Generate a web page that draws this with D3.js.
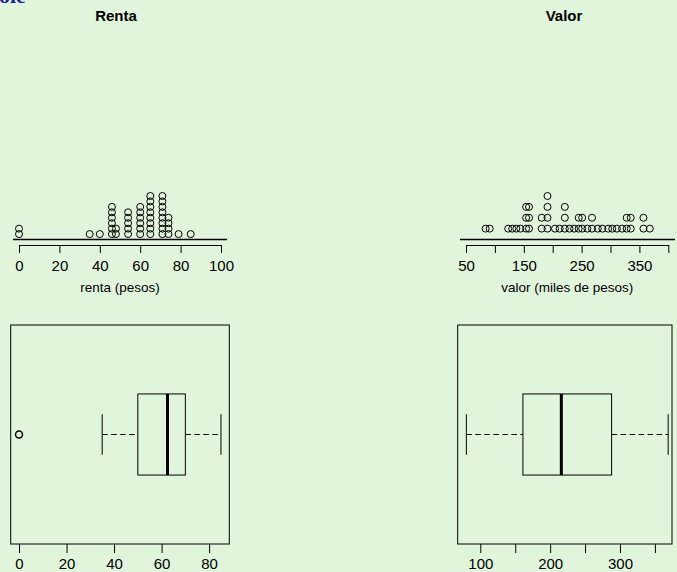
<!DOCTYPE html>
<html>
<head>
<meta charset="utf-8">
<script src="https://cdn.jsdelivr.net/npm/d3@7"></script>
<style>
  html, body { margin: 0; padding: 0; background: #e1f5dc; }
  svg { display: block; }
  text { font-family: "Liberation Sans", Arial, Helvetica, sans-serif; fill: #000; }
</style>
</head>
<body>
<svg id="chart" width="677" height="572"></svg>
<script>
// Rent (pesos): distinct values and how many houses share each value
const rentaValues = [0, 35, 40, 46, 48, 54, 60, 65, 71, 74, 79, 85];
const rentaCounts = [2, 1, 1, 6, 2, 5, 6, 8, 8, 4, 1, 1];

// House value (thousands of pesos): distinct values and counts
const valorValues = [84, 91, 123, 130, 137, 144, 154, 159, 181, 191, 204, 212, 221, 229, 237,
                     245, 251, 260, 268, 278, 286, 296, 303, 311, 320, 328, 335, 357, 368];
const valorCounts = [1, 1, 1, 1, 1, 1, 3, 3, 2, 4, 1, 1, 3, 1, 1,
                     2, 2, 1, 2, 1, 1, 1, 1, 1, 1, 2, 2, 2, 1];

// Five-number summaries used by the box plots: [lower whisker, Q1, median, Q3, upper whisker]
const rentaBox = [35, 50, 62.5, 70, 85];
const rentaOutliers = [0];
const valorBox = [80, 161, 216, 288, 369];
const valorOutliers = [];

// Axis ticks and labels
const rentaDotTicks = [0, 20, 40, 60, 80, 100];
const rentaDotLabels = [0, 20, 40, 60, 80, 100];
const valorDotTicks = [50, 100, 150, 200, 250, 300, 350, 400];
const valorDotLabels = [50, 150, 250, 350];
const rentaBoxTicks = [0, 20, 40, 60, 80];
const rentaBoxLabels = [0, 20, 40, 60, 80];
const valorBoxTicks = [100, 150, 200, 250, 300, 350];
const valorBoxLabels = [100, 200, 300];

const titles = ["Renta", "Valor"];
const xTitles = ["renta (pesos)", "valor (miles de pesos)"];

const svg = d3.select("#chart");

// Clipped heading left over from the page above
svg.append("text")
  .attr("x", -1).attr("y", 3)
  .style("font-family", "'Liberation Serif', 'DejaVu Serif', serif")
  .style("font-weight", "bold").style("font-size", "22px")
  .style("fill", "#1c1c9c")
  .text("ole");

function dotPlot(cfg) {
  const g = svg.append("g");
  const x = d3.scaleLinear().domain(cfg.domain).range(cfg.range);
  const maxCount = d3.max(cfg.counts);
  const y = d3.scaleLinear().domain([0, maxCount]).range([cfg.baseY, cfg.baseY - 43.5]);

  // baseline under the stacks
  g.append("line")
    .attr("x1", x(cfg.lineExtent[0])).attr("x2", x(cfg.lineExtent[1]))
    .attr("y1", cfg.baseY).attr("y2", cfg.baseY)
    .attr("stroke", "#000").attr("stroke-width", 1.3);

  const pts = [];
  cfg.values.forEach((v, i) => {
    for (let k = 1; k <= cfg.counts[i]; k++) pts.push({ v, k });
  });
  g.selectAll("circle").data(pts).join("circle")
    .attr("cx", d => x(d.v)).attr("cy", d => y(d.k))
    .attr("r", 3.5)
    .attr("fill", "none").attr("stroke", "#000").attr("stroke-width", 1);

  const axis = d3.axisBottom(x)
    .tickValues(cfg.ticks)
    .tickSize(8).tickSizeOuter(0).tickPadding(7)
    .tickFormat(d => cfg.labels.includes(d) ? d : "");
  const ag = g.append("g").attr("transform", `translate(0,${cfg.axisY})`).call(axis);
  ag.select(".domain").attr("stroke", "#000");
  ag.selectAll(".tick line").attr("stroke", "#000");
  ag.selectAll("text").style("font-size", "15px").style("font-family", "'Liberation Sans', Arial, sans-serif");

  g.append("text")
    .attr("x", (cfg.range[0] + cfg.range[1]) / 2).attr("y", cfg.axisY + 47)
    .attr("text-anchor", "middle").style("font-size", "13.5px")
    .text(cfg.xTitle);

  svg.append("text")
    .attr("x", cfg.titleX).attr("y", 21)
    .attr("text-anchor", "middle")
    .style("font-size", "15px").style("font-weight", "bold")
    .text(cfg.title);
}

function boxPlot(cfg) {
  const g = svg.append("g");
  const x = d3.scaleLinear().domain(cfg.domain).range(cfg.range);
  const y = d3.scaleLinear().domain([1.54, 0.46]).range([325, 544]);
  const [lo, q1, med, q3, hi] = cfg.stats;

  g.append("rect")
    .attr("x", cfg.range[0]).attr("y", y(1.54))
    .attr("width", cfg.range[1] - cfg.range[0]).attr("height", y(0.46) - y(1.54))
    .attr("fill", "none").attr("stroke", "#000").attr("stroke-width", 1);

  // whiskers
  g.selectAll("line.whisker").data([[lo, q1], [q3, hi]]).join("line")
    .attr("class", "whisker")
    .attr("x1", d => x(d[0])).attr("x2", d => x(d[1]))
    .attr("y1", y(1)).attr("y2", y(1))
    .attr("stroke", "#000").attr("stroke-dasharray", "5.5,3.5");
  g.selectAll("line.cap").data([lo, hi]).join("line")
    .attr("class", "cap")
    .attr("x1", d => x(d)).attr("x2", d => x(d))
    .attr("y1", y(1.1)).attr("y2", y(0.9))
    .attr("stroke", "#000");

  // box and median
  g.append("rect")
    .attr("x", x(q1)).attr("y", y(1.2))
    .attr("width", x(q3) - x(q1)).attr("height", y(0.8) - y(1.2))
    .attr("fill", "none").attr("stroke", "#000");
  g.append("line")
    .attr("x1", x(med)).attr("x2", x(med))
    .attr("y1", y(1.2)).attr("y2", y(0.8))
    .attr("stroke", "#000").attr("stroke-width", 3);

  g.selectAll("circle").data(cfg.outliers).join("circle")
    .attr("cx", d => x(d)).attr("cy", y(1)).attr("r", 3.5)
    .attr("fill", "none").attr("stroke", "#000").attr("stroke-width", 1.5);

  const axis = d3.axisBottom(x)
    .tickValues(cfg.ticks)
    .tickSize(9).tickSizeOuter(0).tickPadding(5)
    .tickFormat(d => cfg.labels.includes(d) ? d : "");
  const ag = g.append("g").attr("transform", `translate(0,${y(0.46)})`).call(axis);
  ag.select(".domain").remove();
  ag.selectAll(".tick line").attr("stroke", "#000");
  ag.selectAll("text").style("font-size", "15px").style("font-family", "'Liberation Sans', Arial, sans-serif");
}

dotPlot({
  values: rentaValues, counts: rentaCounts,
  domain: [0, 100], range: [19, 221], lineExtent: [-3, 103],
  baseY: 239.5, axisY: 245,
  ticks: rentaDotTicks, labels: rentaDotLabels,
  xTitle: xTitles[0], title: titles[0], titleX: 116
});
dotPlot({
  values: valorValues, counts: valorCounts,
  domain: [50, 400], range: [466, 668.3], lineExtent: [39.5, 411.5],
  baseY: 239.5, axisY: 245,
  ticks: valorDotTicks, labels: valorDotLabels,
  xTitle: xTitles[1], title: titles[1], titleX: 564
});

boxPlot({
  stats: rentaBox, outliers: rentaOutliers,
  domain: [-3.5, 88.5], range: [10.7, 229.3],
  ticks: rentaBoxTicks, labels: rentaBoxLabels
});
boxPlot({
  stats: valorBox, outliers: valorOutliers,
  domain: [67.6, 374.5], range: [457.7, 672],
  ticks: valorBoxTicks, labels: valorBoxLabels
});
</script>
</body>
</html>
